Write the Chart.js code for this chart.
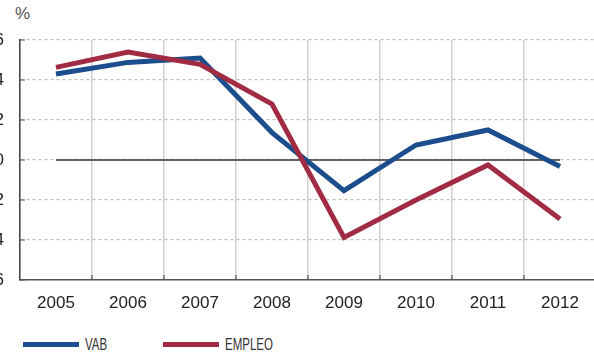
<!DOCTYPE html>
<html lang="es">
<head>
  <meta charset="UTF-8">
  <title>VAB y empleo</title>
  <script src="https://cdn.jsdelivr.net/npm/chart.js"></script>
  <style>
    body {
      margin: 0;
      background: white;
      width: 594px;
      height: 356px;
      overflow: hidden;
      position: relative;
      font-family: "Liberation Sans", Arial, sans-serif;
    }

    #chartBox {
      position: absolute;
      left: -20px;
      top: 0;
      width: 616px;
      height: 320px;
    }

    #unidad {
      position: absolute;
      left: 15px;
      top: 4px;
      font-size: 17px;
      color: #555;
    }

    /* leyenda */
    .ley {
      position: absolute;
      top: 336px;
      height: 18px;
    }
    .ley .raya {
      position: absolute;
      left: 0;
      top: 6px;
      width: 56px;
      height: 5px;
    }
    .ley .txt {
      position: absolute;
      left: 62px;
      top: 0;
      font-size: 16px;
      line-height: 18px;
      color: #333;
      transform: scaleX(0.72);
      transform-origin: left center;
      white-space: nowrap;
    }
  </style>
</head>
<body>

  <div id="unidad">%</div>

  <div id="chartBox">
    <canvas id="grafico" width="616" height="320"></canvas>
  </div>

  <div class="ley" style="left:23px">
    <div class="raya" style="background:#1c4d8d"></div>
    <div class="txt">VAB</div>
  </div>
  <div class="ley" style="left:163px">
    <div class="raya" style="background:#a12b43"></div>
    <div class="txt">EMPLEO</div>
  </div>

  <script>
    // datos
    const anios = ['2005', '2006', '2007', '2008', '2009', '2010', '2011', '2012'];
    const vab = [4.3, 4.88, 5.1, 1.37, -1.53, 0.75, 1.5, -0.33];
    const empleo = [4.63, 5.4, 4.78, 2.8, -3.87, -2.0, -0.25, -2.95];
    const cero = [0, 0, 0, 0, 0, 0, 0, 0];
    const yTicks = [-6, -4, -2, 0, 2, 4, 6];

    const azul = '#1c4d8d';
    const rojo = '#a12b43';

    // marcas de eje hacia dentro
    const marcasDentro = {
      id: 'marcasDentro',
      afterDraw(chart) {
        const { ctx, chartArea, scales: { x, y } } = chart;
        ctx.save();
        ctx.strokeStyle = '#555';
        ctx.lineWidth = 1.2;
        ctx.beginPath();
        y.ticks.forEach((t, i) => {
          const py = y.getPixelForTick(i);
          ctx.moveTo(chartArea.left, py);
          ctx.lineTo(chartArea.left + 5, py);
        });
        const banda = x.getPixelForTick(1) - x.getPixelForTick(0);
        x.ticks.forEach((t, i) => {
          const px = x.getPixelForTick(i) + banda / 2;
          ctx.moveTo(px, chartArea.bottom);
          ctx.lineTo(px, chartArea.bottom - 5);
        });
        ctx.stroke();
        ctx.restore();
      }
    };

    new Chart(document.getElementById('grafico'), {
      type: 'line',
      data: {
        labels: anios,
        datasets: [
          {
            label: 'VAB',
            data: vab,
            borderColor: azul,
            borderWidth: 5,
            pointRadius: 0,
            tension: 0,
            borderJoinStyle: 'miter',
            order: 1
          },
          {
            label: 'EMPLEO',
            data: empleo,
            borderColor: rojo,
            borderWidth: 5,
            pointRadius: 0,
            tension: 0,
            borderJoinStyle: 'miter',
            order: 0
          },
          {
            label: 'cero',
            data: cero,
            borderColor: '#333',
            borderWidth: 1.3,
            pointRadius: 0,
            order: 2
          }
        ]
      },
      options: {
        responsive: false,
        animation: false,
        layout: { padding: { top: 40, left: 0, right: 0, bottom: 0 } },
        plugins: {
          legend: { display: false },
          tooltip: { enabled: false }
        },
        scales: {
          x: {
            offset: true,
            afterFit: s => { s.height = 40; },
            grid: { offset: true, color: '#cfcfcf', lineWidth: 1.5, drawTicks: false },
            border: { color: '#555', width: 1.5 },
            ticks: {
              color: '#222',
              padding: 13,
              font: { family: 'Liberation Sans, Arial', size: 17 }
            }
          },
          y: {
            min: -6,
            max: 6,
            afterFit: s => { s.width = 40; },
            afterBuildTicks: s => { s.ticks = yTicks.map(v => ({ value: v })); },
            grid: { color: '#bdbdbd', lineWidth: 1.2, drawTicks: false },
            border: { color: '#444', width: 1.5, dash: [3, 3] },
            ticks: {
              color: '#222',
              padding: 16,
              font: { family: 'Liberation Sans, Arial', size: 17 }
            }
          }
        }
      },
      plugins: [marcasDentro]
    });
  </script>

</body>
</html>
